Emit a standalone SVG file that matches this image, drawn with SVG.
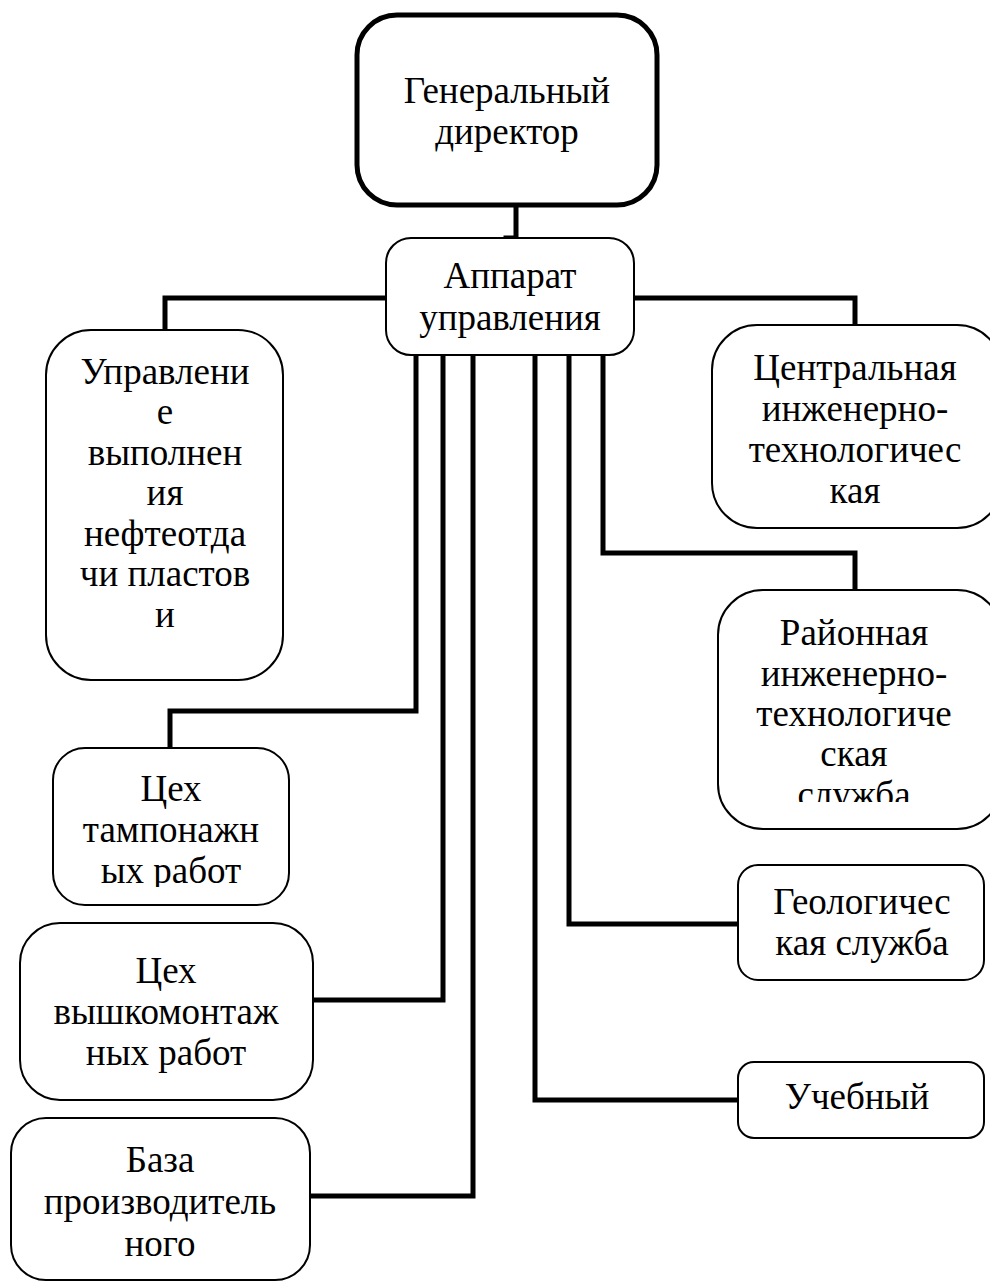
<svg xmlns="http://www.w3.org/2000/svg" width="990" height="1283" viewBox="0 0 990 1283">
<style>
.b{fill:#fff;stroke:#000;stroke-width:2}
.bt{fill:#fff;stroke:#000;stroke-width:5}
.c{fill:none;stroke:#000;stroke-width:5;stroke-linecap:square}
text{font-family:"Liberation Serif","Times New Roman",serif;font-size:37px;fill:#000;text-anchor:middle}
</style>
<defs>
<clipPath id="clipR"><rect x="700" y="590" width="290" height="212"/></clipPath>
<clipPath id="clipT"><rect x="40" y="748" width="260" height="139"/></clipPath>
</defs>
<rect width="990" height="1283" fill="#fff"/>
<g id="connectors">
<path class="c" d="M516 205 V238 H506"/>
<path class="c" d="M387 298 H165 V330"/>
<path class="c" d="M633 298 H855 V325"/>
<path class="c" d="M416 355 V711 H170 V748"/>
<path class="c" d="M443 355 V1000 H313"/>
<path class="c" d="M473 355 V1196 H310"/>
<path class="c" d="M535 355 V1100 H738"/>
<path class="c" d="M569 355 V924 H738"/>
<path class="c" d="M603 355 V553 H855 V590"/>
</g>
<g id="gd">
<rect class="bt" x="357" y="15" width="300" height="190" rx="40"/>
<text x="507" y="103">Генеральный</text>
<text x="507" y="144">директор</text>
</g>
<g id="apparat">
<rect class="b" x="386" y="238" width="248" height="117" rx="25"/>
<text x="510" y="288">Аппарат</text>
<text x="510" y="330">управления</text>
</g>
<g id="upravlenie">
<rect class="b" x="46" y="330" width="237" height="350" rx="45"/>
<text x="165" y="384">Управлени</text>
<text x="165" y="424">е</text>
<text x="165" y="465">выполнен</text>
<text x="165" y="505">ия</text>
<text x="165" y="546">нефтеотда</text>
<text x="165" y="586">чи пластов</text>
<text x="165" y="627">и</text>
</g>
<g id="central">
<rect class="b" x="712" y="325" width="290" height="203" rx="45"/>
<text x="855" y="380">Центральная</text>
<text x="855" y="421">инженерно-</text>
<text x="855" y="462">технологичес</text>
<text x="855" y="503">кая</text>
</g>
<g id="rayon">
<rect class="b" x="718" y="590" width="284" height="239" rx="45"/>
<g clip-path="url(#clipR)">
<text x="854" y="645">Районная</text>
<text x="854" y="686">инженерно-</text>
<text x="854" y="726">технологиче</text>
<text x="854" y="766">ская</text>
<text x="854" y="807">служба</text>
</g>
</g>
<g id="tampon">
<rect class="b" x="53" y="748" width="236" height="157" rx="32"/>
<g clip-path="url(#clipT)">
<text x="171" y="801">Цех</text>
<text x="171" y="842">тампонажн</text>
<text x="171" y="883">ых работ</text>
</g>
</g>
<g id="vyshko">
<rect class="b" x="20" y="923" width="293" height="177" rx="40"/>
<text x="166" y="983">Цех</text>
<text x="166" y="1024">вышкомонтаж</text>
<text x="166" y="1065">ных работ</text>
</g>
<g id="baza">
<rect class="b" x="11" y="1118" width="299" height="162" rx="35"/>
<text x="160" y="1172">База</text>
<text x="160" y="1214">производитель</text>
<text x="160" y="1256">ного</text>
</g>
<g id="geo">
<rect class="b" x="738" y="865" width="246" height="115" rx="20"/>
<text x="862" y="914">Геологичес</text>
<text x="862" y="955">кая служба</text>
</g>
<g id="ucheb">
<rect class="b" x="738" y="1062" width="246" height="76" rx="16"/>
<text x="857" y="1109">Учебный</text>
</g>
</svg>
